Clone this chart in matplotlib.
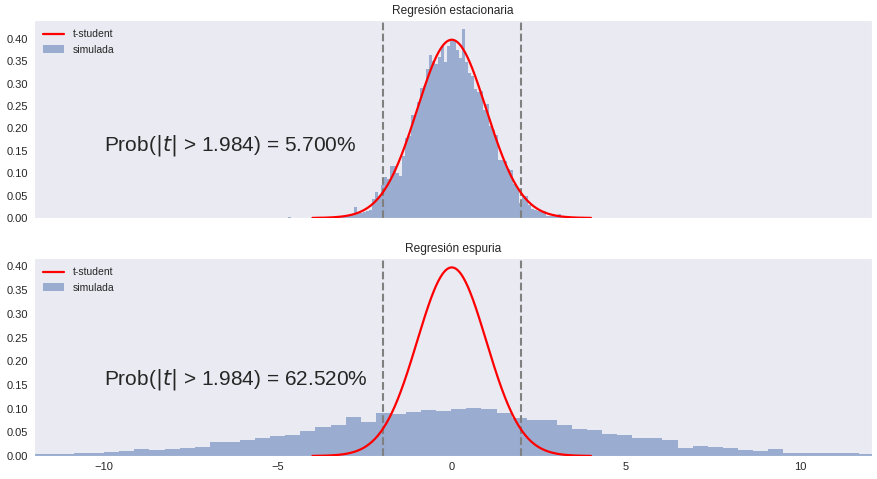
import numpy as np
import matplotlib
matplotlib.use('Agg')
import matplotlib.pyplot as plt
from matplotlib.ticker import MultipleLocator
import seaborn as sns
from math import gamma, pi, sqrt

'''Histogram of simulated t statistics vs the t-student density,
stationary regression (top) and spurious regression (bottom)
'''

###DATA###
t_crit = 1.984
dof = 98

# stationary regression: bins of width 0.086 starting at -4.70
est_start = -4.70
est_width = 0.086
est_density = [0.002, 0, 0, 0, 0, 0, 0, 0, 0, 0,
               0, 0, 0, 0, 0, 0.001, 0.001, 0.002, 0.002, 0.004,
               0.007, 0.007, 0.025, 0.011, 0.012, 0.013, 0.015, 0.018, 0.043, 0.058,
               0.050, 0.074, 0.092, 0.086, 0.117, 0.117, 0.100, 0.093, 0.138, 0.179,
               0.182, 0.229, 0.229, 0.260, 0.290, 0.294, 0.333, 0.363, 0.350, 0.343,
               0.360, 0.384, 0.348, 0.385, 0.394, 0.394, 0.376, 0.357, 0.421, 0.348,
               0.324, 0.317, 0.287, 0.281, 0.283, 0.242, 0.255, 0.205, 0.197, 0.186,
               0.130, 0.129, 0.127, 0.110, 0.108, 0.075, 0.068, 0.034, 0.050, 0.048,
               0.030, 0.020, 0.018, 0.015, 0.013, 0.015, 0.005, 0.005, 0.005, 0.004,
               0.010, 0.004, 0.004, 0.005, 0.002, 0.001, 0.001, 0.001, 0.000, 0.001]
est_prob = 5.700

# spurious regression: bins of width 0.4334, edge near 0 at -0.014
esp_start = -0.014 - 28 * 0.4334
esp_width = 0.4334
esp_density = [0.0040, 0.0035, 0.0040, 0.0063, 0.0063, 0.0085, 0.0106, 0.0148, 0.0127, 0.0148,
               0.0169, 0.0190, 0.0296, 0.0296, 0.0338, 0.0380, 0.0423, 0.0451, 0.0529, 0.0613,
               0.0662, 0.0825, 0.0719, 0.0916, 0.0888, 0.0930, 0.0973, 0.0944,
               0.0994, 0.1015, 0.0994, 0.0909, 0.0803, 0.0761, 0.0761, 0.0655, 0.0571, 0.0550,
               0.0465, 0.0444, 0.0380, 0.0380, 0.0338, 0.0169, 0.0211, 0.0190, 0.0169, 0.0127,
               0.0106, 0.0148, 0.0063, 0.0063, 0.0063, 0.0063, 0.0063, 0.0042]
esp_prob = 62.520


###FUNCTIONS###
def t_pdf(x, df):
	'''student t density'''
	c = gamma((df + 1) / 2) / (sqrt(df * pi) * gamma(df / 2))
	return c * (1 + x**2 / df) ** (-(df + 1) / 2)


def panel(ax, start, width, density, prob, title):
	'''draws one histogram with the t-student curve on top'''
	x = np.linspace(-4, 4, 400)
	ax.plot(x, t_pdf(x, dof), color='red', lw=1.6, label='t-student', zorder=3)

	edges = start + width * np.arange(len(density) + 1)
	ax.hist(edges[:-1], bins=edges, weights=density, color='#4C72B0', alpha=0.5,
	        edgecolor='none', linewidth=0, label='simulada')

	ax.axvline(-t_crit, color='gray', ls='--', lw=1.5)
	ax.axvline(t_crit, color='gray', ls='--', lw=1.5)

	ax.text(-10, 0.15, r'Prob($|t|$ > %.3f) = %.3f%%' % (t_crit, prob), fontsize=15, color='#262626')
	ax.set_title(title, fontsize=8.6, color='#262626', pad=4)
	ax.legend(loc='upper left', frameon=False, fontsize=7.5)
	ax.yaxis.set_major_locator(MultipleLocator(0.05))
	ax.tick_params(labelsize=8, colors='#262626', length=0, pad=4)


###MAIN###
sns.set_style('dark')
plt.rcParams['font.family'] = ['Liberation Sans', 'DejaVu Sans']

fig = plt.figure(figsize=(8.78, 4.79), dpi=100)
ax1 = fig.add_axes([0.0387, 0.5449, 0.9544, 0.4134])
ax2 = fig.add_axes([0.0387, 0.0480, 0.9544, 0.4134], sharex=ax1)

panel(ax1, est_start, est_width, est_density, est_prob, 'Regresión estacionaria')
panel(ax2, esp_start, esp_width, esp_density, esp_prob, 'Regresión espuria')

ax2.set_xlim(-12.0, 12.07)
ax2.set_xticks([-10, -5, 0, 5, 10])
plt.setp(ax1.get_xticklabels(), visible=False)

plt.savefig('out.png', dpi=100)
plt.close()
